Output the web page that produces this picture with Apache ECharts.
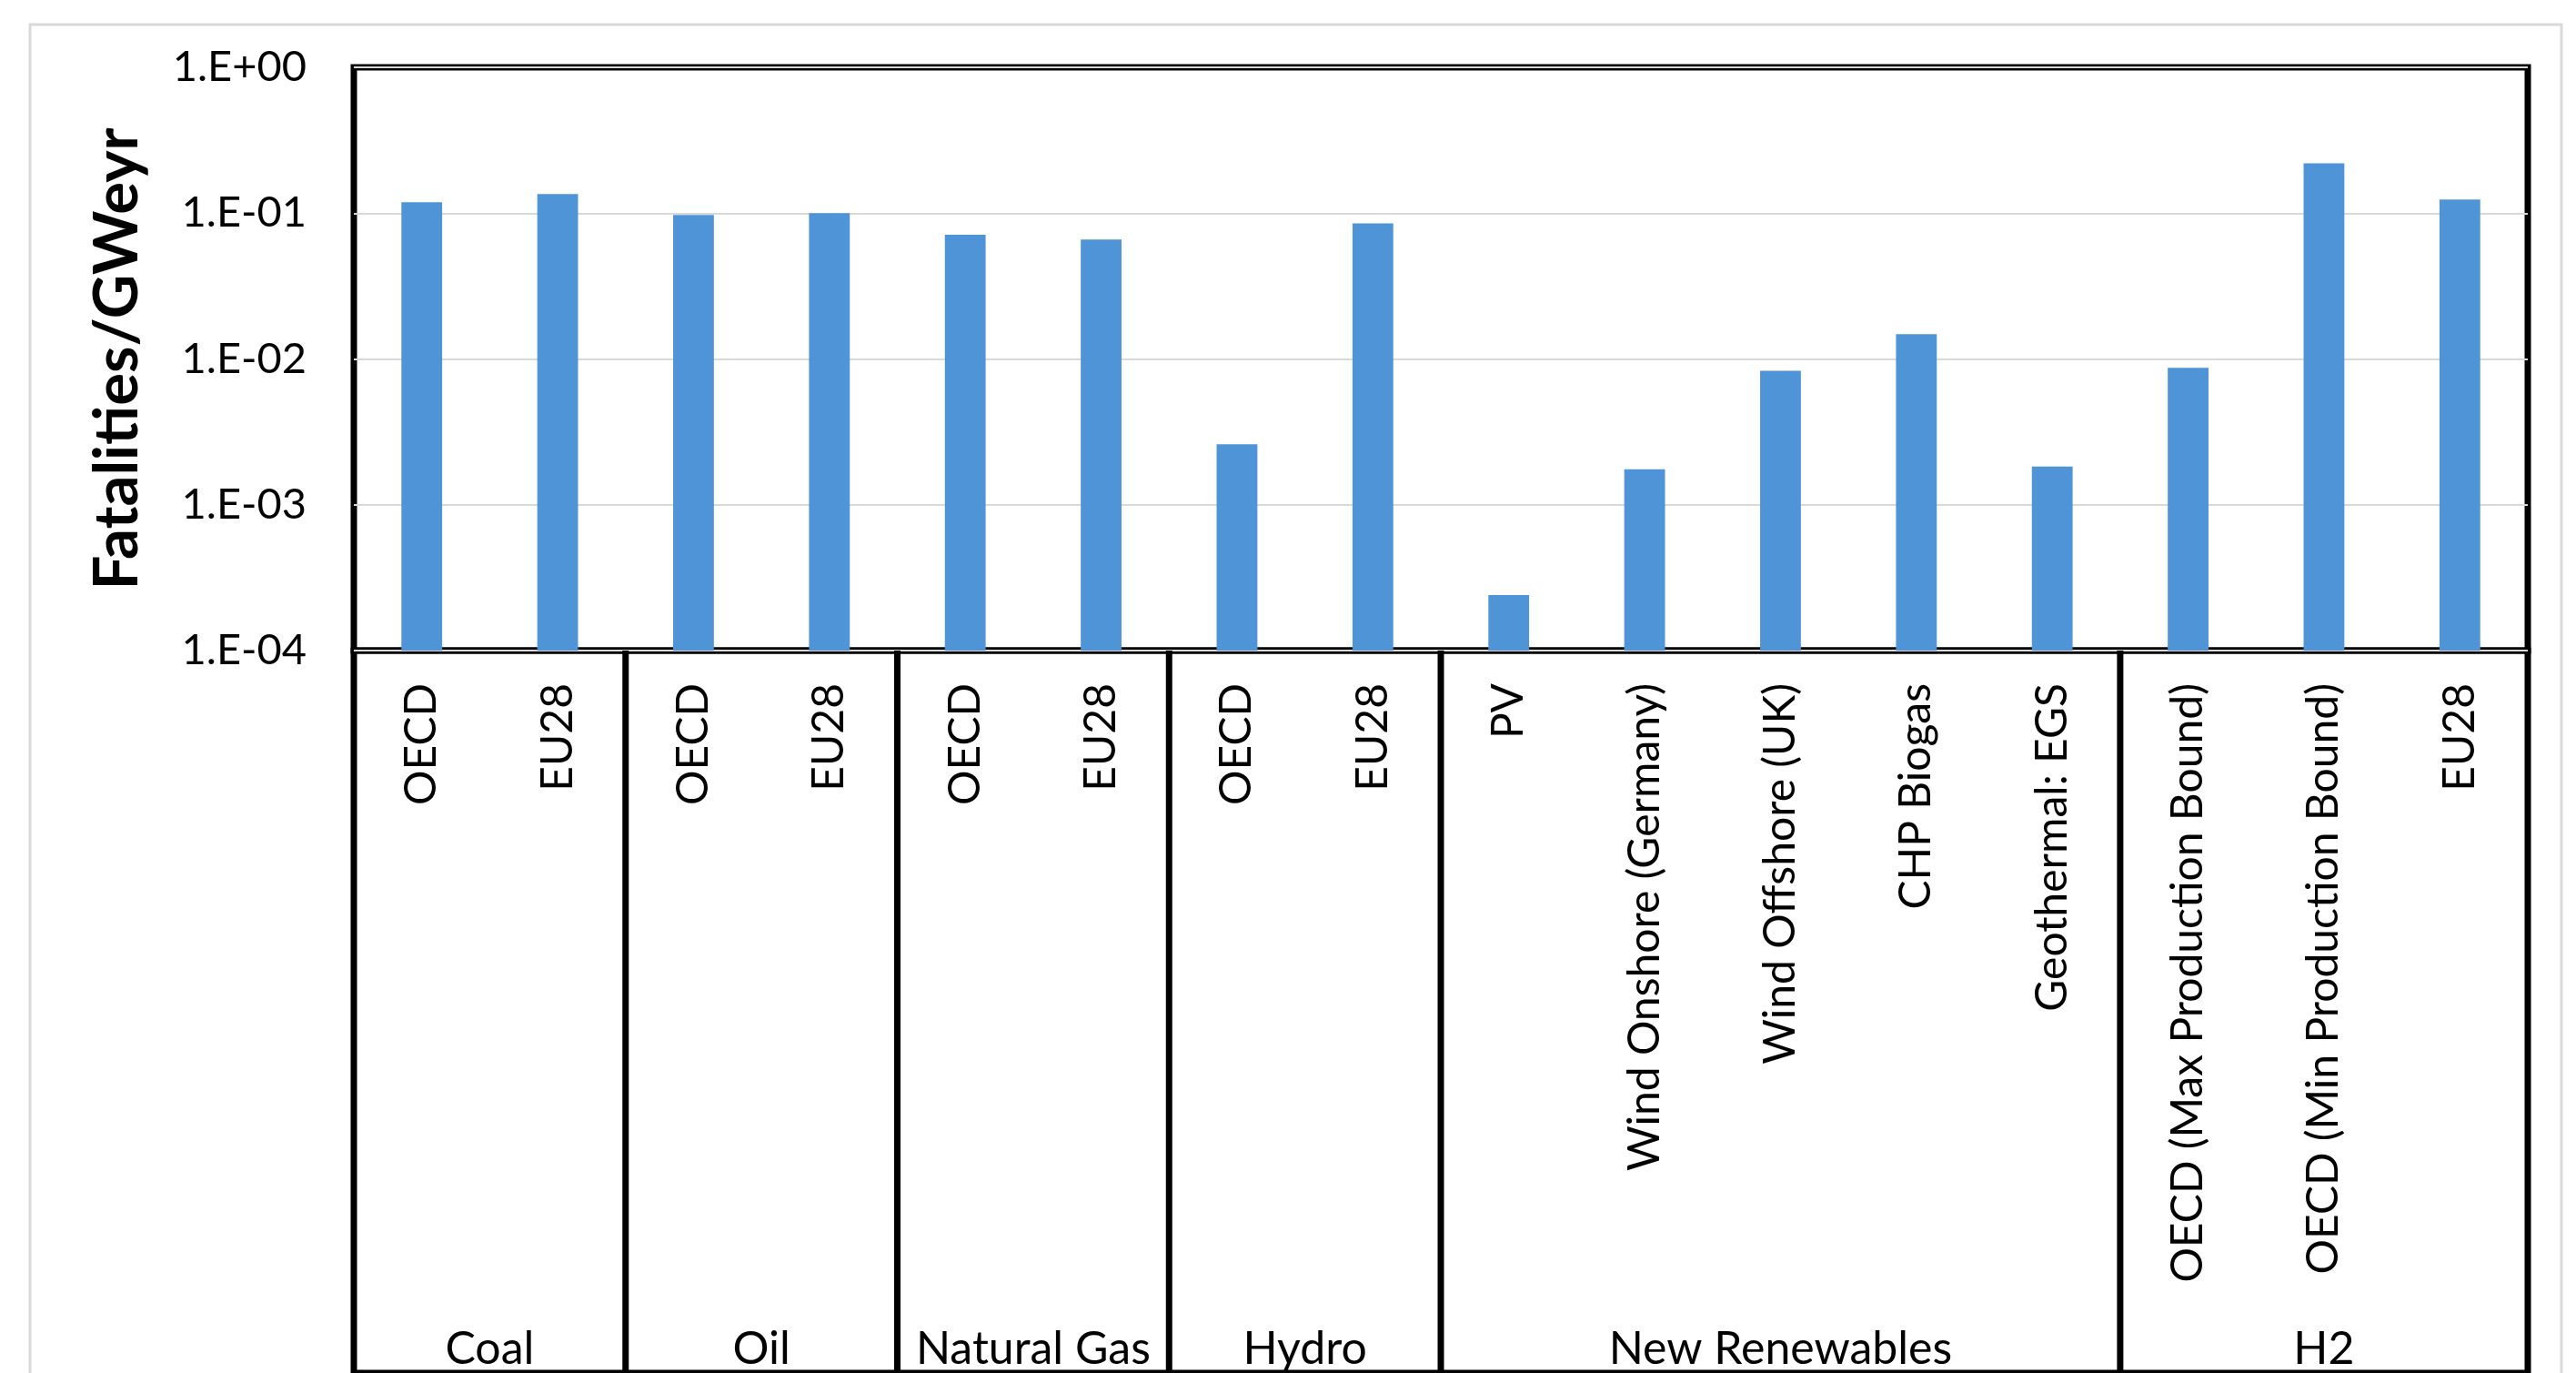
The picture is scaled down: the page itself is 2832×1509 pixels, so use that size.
<!DOCTYPE html>
<html>
<head>
<meta charset="utf-8">
<title>Fatalities per GWeyr by energy chain</title>
<script src="https://cdn.jsdelivr.net/npm/echarts@6/dist/echarts.min.js"></script>
<style>
  html, body { margin: 0; padding: 0; background: #ffffff; }
  #chart { width: 2832px; height: 1509px; }
</style>
</head>
<body>
<div id="chart"></div>
<script>
// Energy chains and their sub-categories
const groupNames = ['Coal', 'Oil', 'Natural Gas', 'Hydro', 'New Renewables', 'H2'];
const groupSizes = [2, 2, 2, 2, 5, 3];

const categories = [
  'OECD', 'EU28',
  'OECD', 'EU28',
  'OECD', 'EU28',
  'OECD', 'EU28',
  'PV', 'Wind Onshore (Germany)', 'Wind Offshore (UK)', 'CHP Biogas', 'Geothermal: EGS',
  'OECD (Max Production Bound)', 'OECD (Min Production Bound)', 'EU28'
];

// Fatalities per GWeyr
const fatalities = [
  0.119, 0.135,
  0.097, 0.100,
  0.071, 0.066,
  0.0026, 0.085,
  0.00024, 0.00175, 0.0083, 0.0148, 0.00183,
  0.0087, 0.22, 0.124
];

const yTickLabels = ['1.E-04', '1.E-03', '1.E-02', '1.E-01', '1.E+00'];
const yMin = 1e-4;
const yMax = 1;

// group spans on the label strip: [start, end]
const groupSpans = [];
let acc = 0;
for (const n of groupSizes) { groupSpans.push([acc, acc + n]); acc += n; }

const FONT = 'Lato, "Open Sans", sans-serif';
const chart = echarts.init(document.getElementById('chart'), null, { renderer: 'canvas' });

chart.setOption({
  backgroundColor: '#ffffff',
  animation: false,
  graphic: [{
    type: 'rect',
    shape: { x: 33, y: 27, width: 2783, height: 1520 },
    style: { fill: 'none', stroke: '#d9d9d9', lineWidth: 3 },
    z: -10, silent: true
  }],
  grid: [
    { left: 389, right: 53, top: 74, bottom: 794, show: true, borderColor: '#000', borderWidth: 7, backgroundColor: 'transparent' },
    { left: 389, right: 53, top: 715, bottom: -40, show: true, borderColor: '#000', borderWidth: 7, backgroundColor: 'transparent' }
  ],
  xAxis: [
    {
      type: 'category', gridIndex: 0, data: categories,
      axisLine: { show: false }, axisTick: { show: false },
      axisLabel: { interval: 0, rotate: 90, margin: 36, fontSize: 48, color: '#000', fontFamily: FONT }
    },
    { type: 'value', gridIndex: 1, min: 0, max: categories.length, show: false }
  ],
  yAxis: [
    {
      type: 'log', gridIndex: 0, logBase: 10, min: yMin, max: yMax, startValue: yMin,
      axisLine: { show: false }, axisTick: { show: false },
      splitLine: { show: true, lineStyle: { color: '#d9d9d9', width: 2 } },
      axisLabel: {
        margin: 52, fontSize: 47, color: '#000', fontFamily: FONT,
        formatter: function (v) {
          const e = Math.round(Math.log10(v));
          return yTickLabels[e + 4];
        }
      },
      name: 'Fatalities/GWeyr', nameLocation: 'middle', nameRotate: 90, nameGap: 226,
      nameTextStyle: { fontSize: 67, fontWeight: 'bold', color: '#000', fontFamily: FONT }
    },
    { type: 'value', gridIndex: 1, min: 0, max: 1, show: false }
  ],
  series: [
    {
      type: 'bar', xAxisIndex: 0, yAxisIndex: 0,
      data: fatalities, barWidth: '30%',
      itemStyle: { color: '#5094d8' }, silent: true
    },
    {
      type: 'custom', xAxisIndex: 1, yAxisIndex: 1, silent: true, z: 5,
      data: groupSpans,
      encode: { x: [0, 1] },
      renderItem: function (params, api) {
        const cs = params.coordSys;
        const x0 = api.coord([api.value(0), 0])[0];
        const x1 = api.coord([api.value(1), 0])[0];
        const children = [{
          type: 'text',
          style: {
            x: (x0 + x1) / 2, y: api.getHeight() - 1,
            text: groupNames[params.dataIndex],
            fill: '#000', font: '50px ' + FONT,
            align: 'center', verticalAlign: 'bottom'
          }
        }];
        if (params.dataIndex < groupSpans.length - 1) {
          children.push({
            type: 'line',
            shape: { x1: x1, y1: cs.y, x2: x1, y2: cs.y + cs.height },
            style: { stroke: '#000', lineWidth: 7 }
          });
        }
        return { type: 'group', children: children };
      }
    }
  ]
});
</script>
</body>
</html>
